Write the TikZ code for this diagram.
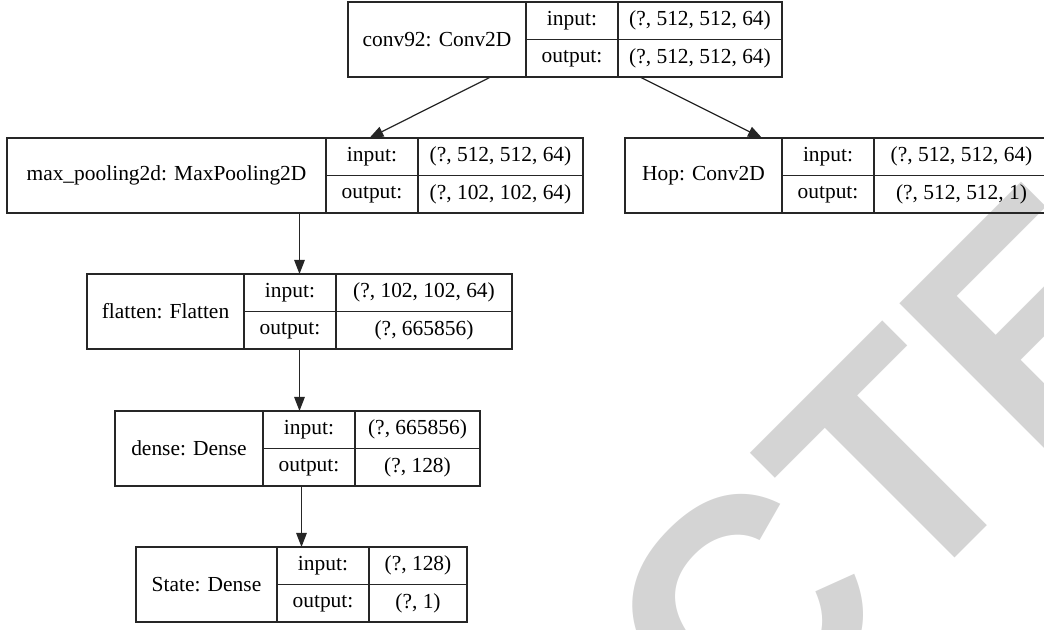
\documentclass[tikz,border=0pt]{standalone}
\usepackage{fontspec}
\setmainfont{Liberation Serif}
\newfontfamily\markfont{Liberation Sans}
\usetikzlibrary{arrows.meta,fit}

\newcommand{\pxu}{0.02cm}

\tikzset{
  cell/.style={draw=black!85, line width=0.75pt, inner sep=0pt, outer sep=0pt,
    font=\fontsize{12.2}{14}\selectfont},
  namecell/.style={cell, minimum height=75*\pxu},
  rowcell/.style={cell, minimum height=37.5*\pxu},
  link/.style={draw=black!85, line width=0.7pt, -{Triangle[length=8pt,width=6pt]}}
}

% one keras layer: id, x, y, name width, value width, title, input, output
\newcommand{\layerbox}[8]{%
  \node[namecell, minimum width=#4*\pxu, anchor=north west] (#1-name) at (#2,#3) {#6};
  \node[rowcell, minimum width=92*\pxu, anchor=north west] (#1-in) at (#1-name.north east) {input:};
  \node[rowcell, minimum width=92*\pxu, anchor=north west] (#1-out) at (#1-in.south west) {output:};
  \node[rowcell, minimum width=#5*\pxu, anchor=north west] (#1-inv) at (#1-in.north east) {#7};
  \node[rowcell, minimum width=#5*\pxu, anchor=north west] (#1-outv) at (#1-out.north east) {#8};
  \node[fit=(#1-name)(#1-outv), inner sep=0pt, outer sep=0pt] (#1) {};
}

\begin{document}
\begin{tikzpicture}[x=0.02cm, y=-0.02cm]
  \useasboundingbox (0,0) rectangle (1044,629);
  % watermark
  \node[text=black!17, font=\markfont\bfseries\fontsize{181}{181}\selectfont,
    rotate=45, anchor=base, inner sep=0pt] (mark) at (659,854) {RETRACTED};

  \layerbox{conv}{348}{2}{178}{164}{conv92: Conv2D}{(?, 512, 512, 64)}{(?, 512, 512, 64)}
  \layerbox{pool}{7}{138}{319}{165}{max\_pooling2d: MaxPooling2D}{(?, 512, 512, 64)}{(?, 102, 102, 64)}
  \layerbox{hop}{625}{138}{157}{175}{Hop: Conv2D}{(?, 512, 512, 64)}{(?, 512, 512, 1)}
  \layerbox{flat}{87}{274}{157}{176}{flatten: Flatten}{(?, 102, 102, 64)}{(?, 665856)}
  \layerbox{dense}{115}{411}{148}{125}{dense: Dense}{(?, 665856)}{(?, 128)}
  \layerbox{state}{136}{547}{141}{98}{State: Dense}{(?, 128)}{(?, 1)}

  \draw[link] (conv) -- (pool);
  \draw[link] (conv) -- (hop);
  \draw[link] (flat.north |- pool.south) -- (flat.north);
  \draw[link] (flat.south) -- (flat.south |- dense.north);
  \draw[link] (state.north |- dense.south) -- (state.north);
\end{tikzpicture}
\end{document}
